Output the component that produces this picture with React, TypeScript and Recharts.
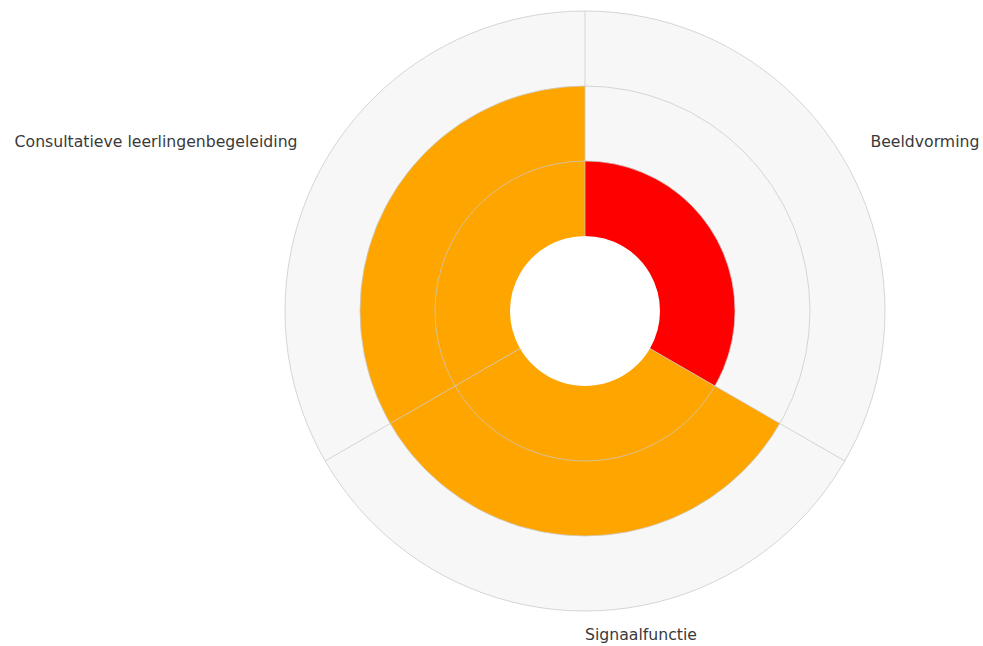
import React from "react";
import {
  RadialBarChart, RadialBar, PolarAngleAxis, PolarRadiusAxis, PolarGrid, Cell, Sector,
} from "recharts";

const categories = ["Beeldvorming", "Signaalfunctie", "Consultatieve leerlingenbegeleiding"];
const scores = [1, 2, 2];
const barColors = ["#ff0000", "#ffa500", "#ffa500"];
const radiusDomain: [number, number] = [0, 3];
const gridValues = [1, 2, 3];

const data = categories.map((name, i) => ({ name, value: scores[i] }));

const CX = 585;
const CY = 311;
const INNER = 75;
const OUTER = 300;
const LABEL_R = 340;
// first sector starts at 12 o'clock and runs clockwise; recharts places each bar
// counter-clockwise from its tick, so the axis starts one band earlier
const BAND = 360 / categories.length;
const START = 90 - BAND;

const toRadius = (v: number) =>
  INNER + ((v - radiusDomain[0]) / (radiusDomain[1] - radiusDomain[0])) * (OUTER - INNER);

function AngleTick(props: any) {
  const { payload } = props;
  const angle = (payload.coordinate as number) + BAND / 2; // centre of the band
  const rad = (angle * Math.PI) / 180;
  const cos = Math.cos(rad);
  let x = CX + LABEL_R * cos;
  let y = CY - LABEL_R * Math.sin(rad);
  let anchor: "start" | "end" = "start";
  if (Math.abs(cos) < 0.1) {
    x = CX;
    y = CY + 323;
  } else if (cos < 0) {
    anchor = "end";
    x += 7;
  } else {
    x -= 9;
  }
  return (
    <text
      x={x}
      y={y}
      textAnchor={anchor}
      dominantBaseline="central"
      fill="#3a3a3a"
      fontSize={15.7}
      fontFamily="'DejaVu Sans', sans-serif"
    >
      {payload.value}
    </text>
  );
}

export default function App() {
  return (
    <div style={{ position: "absolute", left: 0, top: 0, width: 983, height: 646, background: "#fff" }}>
      <RadialBarChart
        width={983}
        height={646}
        data={data}
        layout="centric"
        cx={CX}
        cy={CY}
        innerRadius={INNER}
        outerRadius={OUTER}
        startAngle={START}
        endAngle={START - 360}
        barCategoryGap={0}
        margin={{ top: 0, right: 0, bottom: 0, left: 0 }}
      >
        <Sector
          cx={CX}
          cy={CY}
          innerRadius={INNER}
          outerRadius={OUTER}
          startAngle={0}
          endAngle={359.999}
          fill="#f7f7f7"
        />
        <PolarAngleAxis
          type="category"
          dataKey="name"
          tickLine={false}
          axisLine={false}
          tick={<AngleTick />}
        />
        <PolarRadiusAxis
          type="number"
          domain={radiusDomain}
          tick={false}
          axisLine={false}
        />
        <RadialBar dataKey="value" isAnimationActive={false}>
          {data.map((d, i) => (
            <Cell key={d.name} fill={barColors[i]} />
          ))}
        </RadialBar>
        <PolarGrid
          {...({ zIndex: 2000 } as any)}
          gridType="circle"
          polarRadius={gridValues.map(toRadius)}
          polarAngles={categories.map((_, i) => START - i * BAND)}
          stroke="#c8c8c8"
          strokeOpacity={0.75}
        />
      </RadialBarChart>
    </div>
  );
}
